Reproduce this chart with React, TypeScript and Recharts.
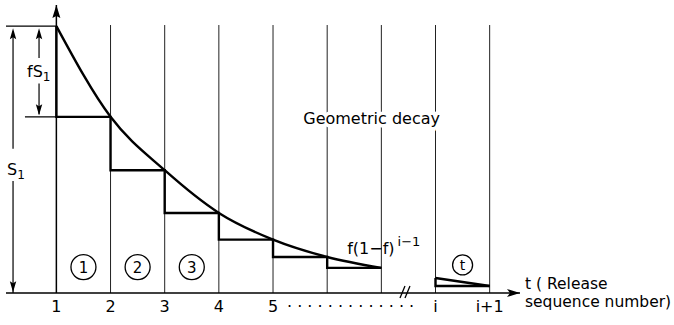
import React from 'react';
import { ComposedChart, Line, XAxis, YAxis, ReferenceLine, ReferenceDot } from 'recharts';

// release sequence number and what is left (S1 = 100)
const releaseIndex = [1, 2, 3, 4, 5, 6, 7];
const retainedShare = [100, 66, 46, 30, 20, 13.5, 9.4];
const tailIndex = [8, 9];
const tailShare = [5.6, 2.6];

const tickValues = [1, 2, 3, 4, 5, 8, 9];
const tickLabels = ['1', '2', '3', '4', '5', 'i', 'i+1'];
const gridIndex = [2, 3, 4, 5, 6, 7, 8, 9];
const circledLabels = ['1', '2', '3'];
const circledAt = [1.5, 2.5, 3.5];

const headData = releaseIndex.map((t, k) => ({ t, s: retainedShare[k] }));
const tailData = tailIndex.map((t, k) => ({ t, s: tailShare[k] }));

const X_MIN = 0.07;
const X_MAX = 9.56;
const Y_MAX = 107.9;
const GRID_TOP = 100.4;
const S1 = retainedShare[0];
const S2 = retainedShare[1];
const DIM_S1_X = 0.2;
const DIM_FS1_X = 0.68;
const EXT_FS1_FROM = 0.42;

const FONT = '"DejaVu Sans", sans-serif';
const INK = '#000';

const upArrow = (w: number, h: number) => (p: any) => (
  <path d={`M${p.cx},${p.cy} L${p.cx - w},${p.cy + h} L${p.cx},${p.cy + h - 2} L${p.cx + w},${p.cy + h} Z`} fill={INK} />
);
const downArrow = (w: number, h: number) => (p: any) => (
  <path d={`M${p.cx},${p.cy} L${p.cx - w},${p.cy - h} L${p.cx},${p.cy - h + 2} L${p.cx + w},${p.cy - h} Z`} fill={INK} />
);

const xArrow = (p: any) => (
  <g fontFamily={FONT} fontSize={15.5} fill={INK}>
    <path d={`M${p.cx},${p.cy} L${p.cx - 13},${p.cy - 4} L${p.cx - 10},${p.cy} L${p.cx - 13},${p.cy + 4} Z`} fill={INK} />
    <text x={p.cx + 5} y={p.cy - 4}>t ( Release</text>
    <text x={p.cx + 5} y={p.cy + 14}>sequence number)</text>
  </g>
);

const subLabel = (main: string, sub: string, dx: number) => (p: any) => (
  <text x={p.cx + dx} y={p.cy} fontFamily={FONT} fontSize={16} fill={INK}>
    {main}
    <tspan fontSize={12} dy={4}>{sub}</tspan>
  </text>
);

const decayLabel = (p: any) => (
  <text x={p.cx} y={p.cy + 6} textAnchor="middle" fontFamily={FONT} fontSize={16} fill={INK}
    stroke="#fff" strokeWidth={7} paintOrder="stroke">
    Geometric decay
  </text>
);

const termLabel = (p: any) => (
  <text x={p.cx} y={p.cy} fontFamily={FONT} fontSize={16} fill={INK}>
    f(1−f)
    <tspan fontSize={13} dx={3} dy={-8}>i−1</tspan>
  </text>
);

const circled = (label: string, r: number) => (p: any) => (
  <g>
    <circle cx={p.cx} cy={p.cy} r={r} fill="none" stroke={INK} strokeWidth={1.3} />
    <text x={p.cx} y={p.cy + 5.5} textAnchor="middle" fontFamily={FONT} fontSize={r > 11 ? 15 : 14} fill={INK}>{label}</text>
  </g>
);

const breakMark = (p: any) => (
  <g stroke={INK} strokeWidth={1.3}>
    <line x1={p.cx - 6} y1={p.cy + 5} x2={p.cx - 1} y2={p.cy - 7} />
    <line x1={p.cx - 1} y1={p.cy + 5} x2={p.cx + 4} y2={p.cy - 7} />
  </g>
);

const renderTick = (p: any) => {
  const label = tickLabels[tickValues.indexOf(p.payload.value)];
  return (
    <g fontFamily={FONT} fontSize={16} fill={INK}>
      <text x={p.x} y={p.y} dy="0.71em" textAnchor="middle">{label}</text>
      {p.payload.value === 5 && (
        <text x={p.x + 14} y={p.y} dy="0.71em">· · · · · · · · · · · · ·</text>
      )}
    </g>
  );
};

export default function App() {
  return (
    <div style={{ position: 'absolute', left: 0, top: 0, width: 674, height: 325, background: '#fff' }}>
      <ComposedChart width={674} height={325} margin={{ top: 5, right: 154, bottom: 2, left: 6 }}>
        <XAxis type="number" dataKey="t" domain={[X_MIN, X_MAX]} allowDataOverflow ticks={tickValues}
          interval={0} tickLine={false} height={30} tick={renderTick}
          axisLine={{ stroke: INK, strokeWidth: 1.6 }} />
        <YAxis type="number" hide domain={[0, Y_MAX]} allowDataOverflow />

        {gridIndex.map((k) => (
          <ReferenceLine key={`g${k}`} segment={[{ x: k, y: 0 }, { x: k, y: GRID_TOP }]} stroke="#222" strokeWidth={1} />
        ))}
        <ReferenceLine segment={[{ x: 1, y: 0 }, { x: 1, y: Y_MAX }]} stroke={INK} strokeWidth={1.5} />

        {/* dimension lines */}
        <ReferenceLine segment={[{ x: X_MIN, y: S1 }, { x: 1, y: S1 }]} stroke={INK} strokeWidth={1.2} />
        <ReferenceLine segment={[{ x: EXT_FS1_FROM, y: S2 }, { x: 1, y: S2 }]} stroke={INK} strokeWidth={1.2} />
        <ReferenceLine segment={[{ x: DIM_S1_X, y: 0 }, { x: DIM_S1_X, y: 42 }]} stroke={INK} strokeWidth={1.2} />
        <ReferenceLine segment={[{ x: DIM_S1_X, y: 54 }, { x: DIM_S1_X, y: S1 - 2 }]} stroke={INK} strokeWidth={1.2} />
        <ReferenceLine segment={[{ x: DIM_FS1_X, y: S2 + 1 }, { x: DIM_FS1_X, y: 78.5 }]} stroke={INK} strokeWidth={1.2} />
        <ReferenceLine segment={[{ x: DIM_FS1_X, y: 88 }, { x: DIM_FS1_X, y: S1 - 2 }]} stroke={INK} strokeWidth={1.2} />

        <Line data={headData} dataKey="s" type="monotone" stroke={INK} strokeWidth={2.4} dot={false} activeDot={false} isAnimationActive={false} />
        <Line data={headData} dataKey="s" type="stepBefore" stroke={INK} strokeWidth={2.4} dot={false} activeDot={false} isAnimationActive={false} />
        <Line data={tailData} dataKey="s" type="linear" stroke={INK} strokeWidth={2.4} dot={false} activeDot={false} isAnimationActive={false} />
        <Line data={tailData} dataKey="s" type="stepBefore" stroke={INK} strokeWidth={2.4} dot={false} activeDot={false} isAnimationActive={false} />

        <ReferenceDot x={1} y={Y_MAX} ifOverflow="visible" shape={upArrow(4, 13)} />
        <ReferenceDot x={X_MAX} y={0} ifOverflow="visible" shape={xArrow} />
        <ReferenceDot x={DIM_S1_X} y={S1 - 0.8} ifOverflow="visible" shape={upArrow(3.2, 11)} />
        <ReferenceDot x={DIM_S1_X} y={0.3} ifOverflow="visible" shape={downArrow(3.2, 11)} />
        <ReferenceDot x={DIM_FS1_X} y={S1 - 0.8} ifOverflow="visible" shape={upArrow(3.2, 11)} />
        <ReferenceDot x={DIM_FS1_X} y={S2 + 0.6} ifOverflow="visible" shape={downArrow(3.2, 11)} />

        <ReferenceDot x={DIM_S1_X} y={44.2} ifOverflow="visible" shape={subLabel('S', '1', -6)} />
        <ReferenceDot x={DIM_FS1_X} y={80.9} ifOverflow="visible" shape={subLabel('fS', '1', -12)} />
        <ReferenceDot x={6.82} y={65.5} ifOverflow="visible" shape={decayLabel} />
        <ReferenceDot x={6.37} y={14.6} ifOverflow="visible" shape={termLabel} />
        {circledLabels.map((c, k) => (
          <ReferenceDot key={`c${c}`} x={circledAt[k]} y={9.7} ifOverflow="visible" shape={circled(c, 12.5)} />
        ))}
        <ReferenceDot x={8.5} y={10.5} ifOverflow="visible" shape={circled('t', 10)} />
        <ReferenceDot x={7.455} y={0} ifOverflow="visible" shape={breakMark} />
      </ComposedChart>
    </div>
  );
}
